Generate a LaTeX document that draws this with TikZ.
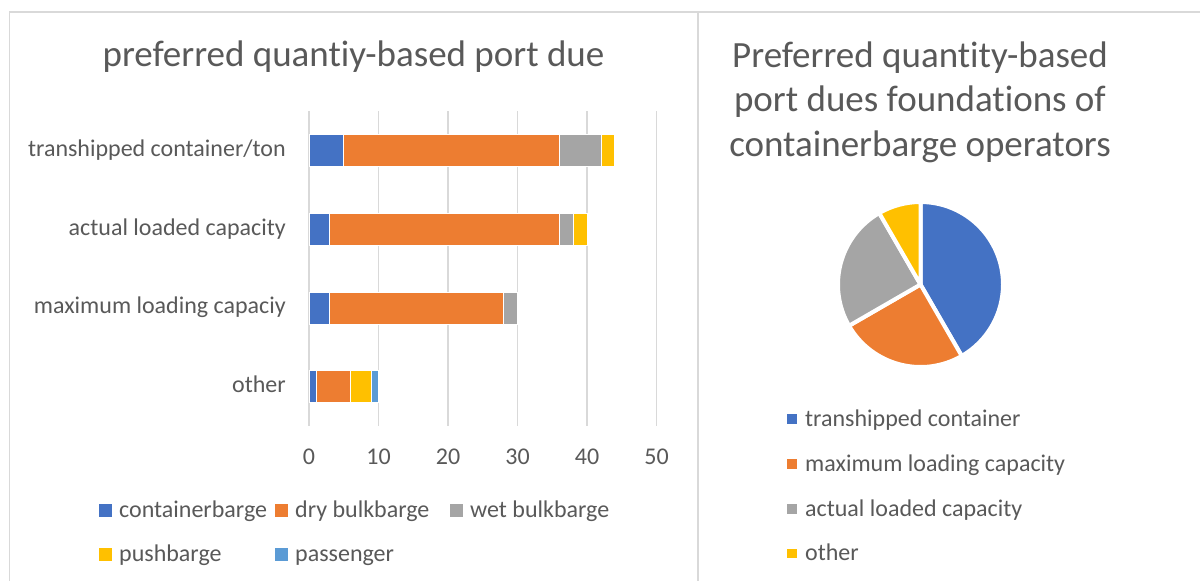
\documentclass[tikz,border=0pt]{standalone}
\usepackage{fontspec}
\setmainfont{Carlito}[Ligatures={NoCommon,NoContextual}]
\definecolor{txt}{HTML}{595959}
\definecolor{gridc}{HTML}{D9D9D9}
\definecolor{frame}{HTML}{D9D9D9}
\definecolor{cblue}{HTML}{4472C4}
\definecolor{corange}{HTML}{ED7D31}
\definecolor{cgray}{HTML}{A5A5A5}
\definecolor{cyellow}{HTML}{FFC000}
\definecolor{clblue}{HTML}{5B9BD5}
\begin{document}
\begin{tikzpicture}[x=1pt,y=-1pt,
  lbl/.style={text=txt, inner sep=0pt, font=\fontsize{24}{29}\selectfont},
  ttl/.style={text=txt, inner sep=0pt, font=\fontsize{37}{45}\selectfont},
  gridline/.style={draw=gridc, line width=1.6pt},
  seg/.style={draw=white, line width=0.8pt},
  slice/.style={draw=white, line width=4pt, line join=round}]
\useasboundingbox (0,0) rectangle (1200,581);
\fill[white] (0,0) rectangle (1200,581);

% chart frames
\draw[frame, line width=1.5pt] (9.5,590) -- (9.5,12) -- (1210,12);
\draw[frame, line width=1.5pt] (698,12) -- (698,590);

% ---------------- stacked bar chart ----------------
\node[ttl, anchor=base] (t1) at (353.5,66.5) {preferred quantiy-based port due};

% vertical gridlines and value axis labels
\foreach \v in {0,10,...,50}{
  \draw[gridline] ({309+6.95*\v},111) -- ({309+6.95*\v},426);
  \node[lbl, anchor=base] (tick\v) at ({309+6.95*\v},464) {\v};
}

% bar segments: centre y / from / to / colour
\foreach \yc/\a/\b/\c in {
  150.3/0/5/cblue, 150.3/5/36/corange, 150.3/36/42/cgray, 150.3/42/44/cyellow,
  229.1/0/3/cblue, 229.1/3/36/corange, 229.1/36/38/cgray, 229.1/38/40/cyellow,
  307.9/0/3/cblue, 307.9/3/28/corange, 307.9/28/30/cgray,
  386.6/0/1/cblue, 386.6/1/6/corange, 386.6/6/9/cyellow, 386.6/9/10/clblue}{
  \fill[\c, seg] ({309+6.95*\a},{\yc-16}) rectangle ({309+6.95*\b},{\yc+16});
}

% category labels
\node[lbl, anchor=base east] (c1) at (286,156.3) {transhipped container/ton};
\node[lbl, anchor=base east] (c2) at (286,235.1) {actual loaded capacity};
\node[lbl, anchor=base east] (c3) at (286,313.9) {maximum loading capaciy};
\node[lbl, anchor=base east] (c4) at (286,392.6) {other};

% legend
\foreach \x/\y/\c/\n/\t in {
  99/517.5/cblue/l1/containerbarge,
  275/517.5/corange/l2/dry bulkbarge,
  450/517.5/cgray/l3/wet bulkbarge,
  99/561/cyellow/l4/pushbarge,
  275/561/clblue/l5/passenger}{
  \fill[\c] (\x,{\y-13.5}) rectangle ++(13,13);
  \node[lbl, anchor=base west] (\n) at ({\x+20},\y) {\t};
}

% ---------------- pie chart ----------------
\node[ttl, anchor=base] (p1) at (920,67) {Preferred quantity-based};
\node[ttl, anchor=base] (p2) at (920,111.5) {port dues foundations of};
\node[ttl, anchor=base] (p3) at (920,156) {containerbarge operators};

\begin{scope}[shift={(920.5,284.5)}, y=1pt]
  \fill[cblue, slice]   (0,0) -- (90:82.5)   arc[start angle=90,   end angle=-60,   radius=82.5] -- cycle;
  \fill[corange, slice] (0,0) -- (-60:82.5)  arc[start angle=-60,  end angle=-150,  radius=82.5] -- cycle;
  \fill[cgray, slice]   (0,0) -- (-150:82.5) arc[start angle=-150, end angle=-240,  radius=82.5] -- cycle;
  \fill[cyellow, slice] (0,0) -- (120:82.5)  arc[start angle=120,  end angle=90,    radius=82.5] -- cycle;
\end{scope}

% pie legend
\foreach \y/\c/\n/\t in {
  426/cblue/q1/transhipped container,
  471/corange/q2/maximum loading capacity,
  516/cgray/q3/actual loaded capacity,
  560.7/cyellow/q4/other}{
  \fill[\c] (787.3,{\y-12}) rectangle ++(9.5,9.5);
  \node[lbl, anchor=base west] (\n) at (805,\y) {\t};
}
\end{tikzpicture}
\end{document}
